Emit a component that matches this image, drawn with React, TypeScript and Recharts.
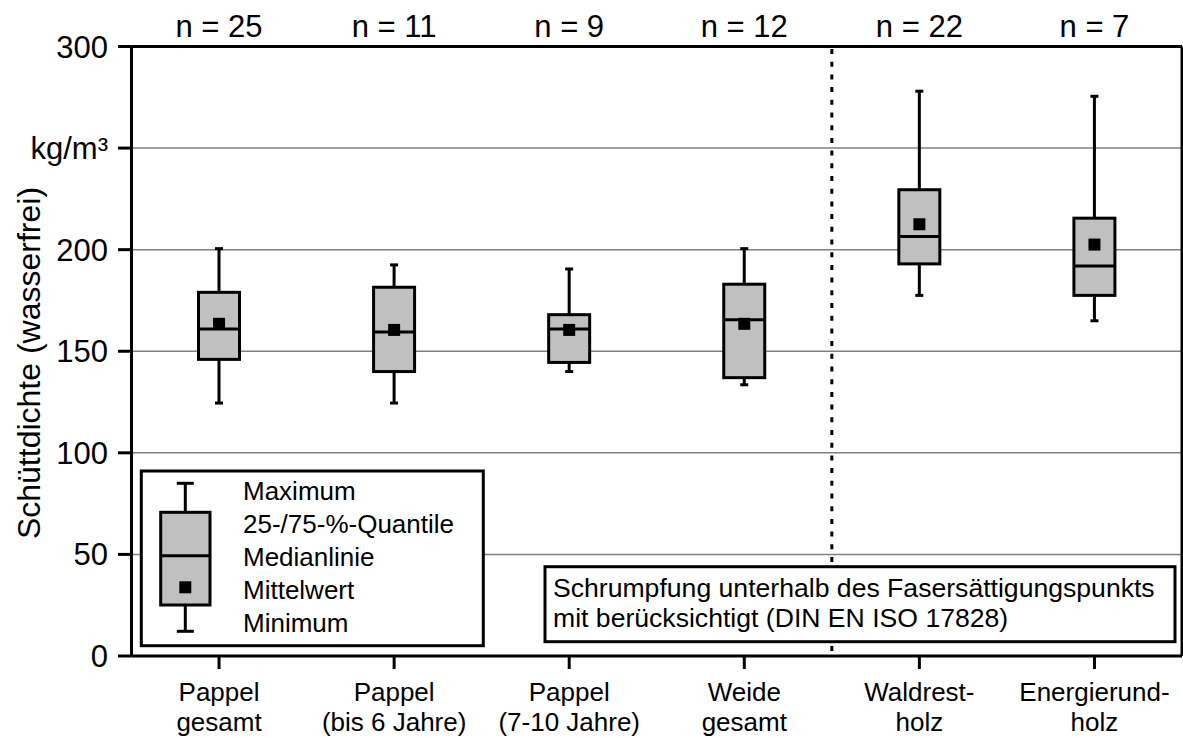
import React from 'react';
import {
  ComposedChart,
  Bar,
  Scatter,
  XAxis,
  YAxis,
  CartesianGrid,
  ReferenceArea,
} from 'recharts';

const categories = [
  'Pappel gesamt',
  'Pappel (bis 6 Jahre)',
  'Pappel (7-10 Jahre)',
  'Weide gesamt',
  'Waldrest-holz',
  'Energierund-holz',
];
const labelLine1 = ['Pappel', 'Pappel', 'Pappel', 'Weide', 'Waldrest-', 'Energierund-'];
const labelLine2 = ['gesamt', '(bis 6 Jahre)', '(7-10 Jahre)', 'gesamt', 'holz', 'holz'];
const sampleSizes = [25, 11, 9, 12, 22, 7];
const minimum = [124.5, 124.5, 140, 133.5, 177.5, 165];
const quartile1 = [146, 140, 144.5, 137, 193, 177.5];
const median = [161, 159.5, 161, 165.5, 206.5, 192];
const mean = [163.5, 160.5, 160.5, 163.5, 212.5, 202.5];
const quartile3 = [179, 181.5, 168, 183, 229.5, 215.5];
const maximum = [200.5, 192.5, 190.5, 200.5, 278, 275.5];
const yTicks = [0, 50, 100, 150, 200, 250, 300];
const unitTick = 250;
const unitLabel = 'kg/m³';

const legendLabels = ['Maximum', '25-/75-%-Quantile', 'Medianlinie', 'Mittelwert', 'Minimum'];
const noteLines = [
  'Schrumpfung unterhalb des Fasersättigungspunkts',
  'mit berücksichtigt (DIN EN ISO 17828)',
];
const yTitle = 'Schüttdichte (wasserfrei)';

const FONT = '"Liberation Sans", Arial, Helvetica, sans-serif';

const data = categories.map((cat, i) => ({
  cat,
  range: [minimum[i], maximum[i]],
  min: minimum[i],
  q1: quartile1[i],
  median: median[i],
  mean: mean[i],
  q3: quartile3[i],
  max: maximum[i],
  n: sampleSizes[i],
}));

const BoxShape = (props: any) => {
  const { x, y, width, height, payload } = props;
  if (payload == null) return null;
  const cx = x + width / 2;
  const top = Math.min(y, y + height);
  const bottom = Math.max(y, y + height);
  const lo = payload.min;
  const hi = payload.max;
  const px = (v: number) => bottom - ((v - lo) / (hi - lo)) * (bottom - top);
  const bw = 41;
  const cap = 4;
  return (
    <g>
      <line x1={cx} x2={cx} y1={px(hi)} y2={px(payload.q3)} stroke="#000" strokeWidth={3} />
      <line x1={cx} x2={cx} y1={px(payload.q1)} y2={px(lo)} stroke="#000" strokeWidth={3} />
      <line x1={cx - cap} x2={cx + cap} y1={px(hi)} y2={px(hi)} stroke="#000" strokeWidth={3} />
      <line x1={cx - cap} x2={cx + cap} y1={px(lo)} y2={px(lo)} stroke="#000" strokeWidth={3} />
      <rect
        x={cx - bw / 2}
        y={px(payload.q3)}
        width={bw}
        height={px(payload.q1) - px(payload.q3)}
        fill="#c0c0c0"
        stroke="#000"
        strokeWidth={3}
      />
      <line
        x1={cx - bw / 2}
        x2={cx + bw / 2}
        y1={px(payload.median)}
        y2={px(payload.median)}
        stroke="#000"
        strokeWidth={3}
      />
    </g>
  );
};

const MeanShape = (props: any) => {
  const { cx, cy } = props;
  if (cx == null || cy == null) return null;
  return <rect x={cx - 6} y={cy - 6} width={12} height={12} fill="#000" />;
};

const DividerShape = (props: any) => {
  const { x, y, height } = props;
  return (
    <line
      x1={x}
      x2={x}
      y1={y}
      y2={y + height}
      stroke="#000"
      strokeWidth={3}
      strokeDasharray="5 7.7"
      strokeDashoffset={10.2}
    />
  );
};

const BottomTick = (props: any) => {
  const { x, y, payload } = props;
  const i = categories.indexOf(payload.value);
  return (
    <g>
      <text x={x} y={y + 32} textAnchor="middle" fontSize={26} fill="#000" fontFamily={FONT}>
        {labelLine1[i]}
      </text>
      <text x={x} y={y + 62} textAnchor="middle" fontSize={26} fill="#000" fontFamily={FONT}>
        {labelLine2[i]}
      </text>
    </g>
  );
};

export default function App() {
  const legendBaselines = [500, 533, 566, 599, 632];
  return (
    <div style={{ position: 'absolute', left: 0, top: 0, width: 1183, height: 738, background: '#fff' }}>
      <ComposedChart
        width={1183}
        height={738}
        data={data}
        margin={{ top: 0, right: 0, bottom: 0, left: 0 }}
        style={{ fontFamily: FONT }}
      >
        <CartesianGrid vertical={false} stroke="#808080" strokeWidth={1.5} />
        <XAxis
          dataKey="cat"
          height={82}
          interval={0}
          axisLine={{ stroke: '#000', strokeWidth: 3 }}
          tickLine={{ stroke: '#000', strokeWidth: 3 }}
          tickSize={13}
          tickMargin={0}
          tick={<BottomTick />}
        />
        <XAxis
          xAxisId="top"
          orientation="top"
          dataKey="cat"
          height={46.5}
          interval={0}
          axisLine={{ stroke: '#000', strokeWidth: 3 }}
          tickLine={false}
          tickSize={0}
          tickMargin={10}
          tickFormatter={(_v: any, i: number) => `n = ${sampleSizes[i]}`}
          tick={{ fontSize: 31, fill: '#000', fontFamily: FONT }}
        />
        <YAxis
          width={131.5}
          domain={[0, 300]}
          ticks={yTicks}
          interval={0}
          axisLine={{ stroke: '#000', strokeWidth: 3 }}
          tickLine={{ stroke: '#000', strokeWidth: 3 }}
          tickSize={13.5}
          tickMargin={10}
          tickFormatter={(v: number) => (v === unitTick ? unitLabel : String(v))}
          tick={{ fontSize: 31, fill: '#000', fontFamily: FONT }}
        />
        <YAxis
          yAxisId="right"
          orientation="right"
          width={1}
          domain={[0, 300]}
          ticks={yTicks}
          tick={false}
          tickLine={false}
          axisLine={{ stroke: '#000', strokeWidth: 3 }}
        />
        <ReferenceArea
          x1={categories[4]}
          x2={categories[5]}
          shape={<DividerShape />}
          ifOverflow="visible"
        />
        <Bar dataKey="range" barSize={41} shape={<BoxShape />} isAnimationActive={false} />
        <Scatter dataKey="mean" shape={<MeanShape />} isAnimationActive={false} />
      </ComposedChart>
      <svg
        width={1183}
        height={738}
        style={{ position: 'absolute', left: 0, top: 0, pointerEvents: 'none', fontFamily: FONT }}
      >
        <text
          transform="translate(40,363) rotate(-90)"
          textAnchor="middle"
          fontSize={32}
          fill="#000"
        >
          {yTitle}
        </text>
        {/* legend */}
        <rect x={141.3} y={471} width={342} height={174.7} fill="#fff" stroke="#000" strokeWidth={3} />
        <line x1={185.3} x2={185.3} y1={483.3} y2={631.3} stroke="#000" strokeWidth={3} />
        <line x1={176.8} x2={193.8} y1={483.3} y2={483.3} stroke="#000" strokeWidth={3} />
        <line x1={176.8} x2={193.8} y1={631.3} y2={631.3} stroke="#000" strokeWidth={3} />
        <rect x={160.7} y={512.3} width={49.3} height={92.7} fill="#c0c0c0" stroke="#000" strokeWidth={3} />
        <line x1={160.7} x2={210} y1={555.7} y2={555.7} stroke="#000" strokeWidth={3} />
        <rect x={179.3} y={581.3} width={12} height={12} fill="#000" />
        {legendLabels.map((t, i) => (
          <text key={t} x={243} y={legendBaselines[i]} fontSize={26} fill="#000">
            {t}
          </text>
        ))}
        {/* note */}
        <rect x={545} y={566.7} width={630} height={75} fill="#fff" stroke="#000" strokeWidth={3} />
        <text x={553} y={597} fontSize={26.6} fill="#000">
          {noteLines[0]}
        </text>
        <text x={553} y={627} fontSize={26.6} fill="#000">
          {noteLines[1]}
        </text>
      </svg>
    </div>
  );
}
